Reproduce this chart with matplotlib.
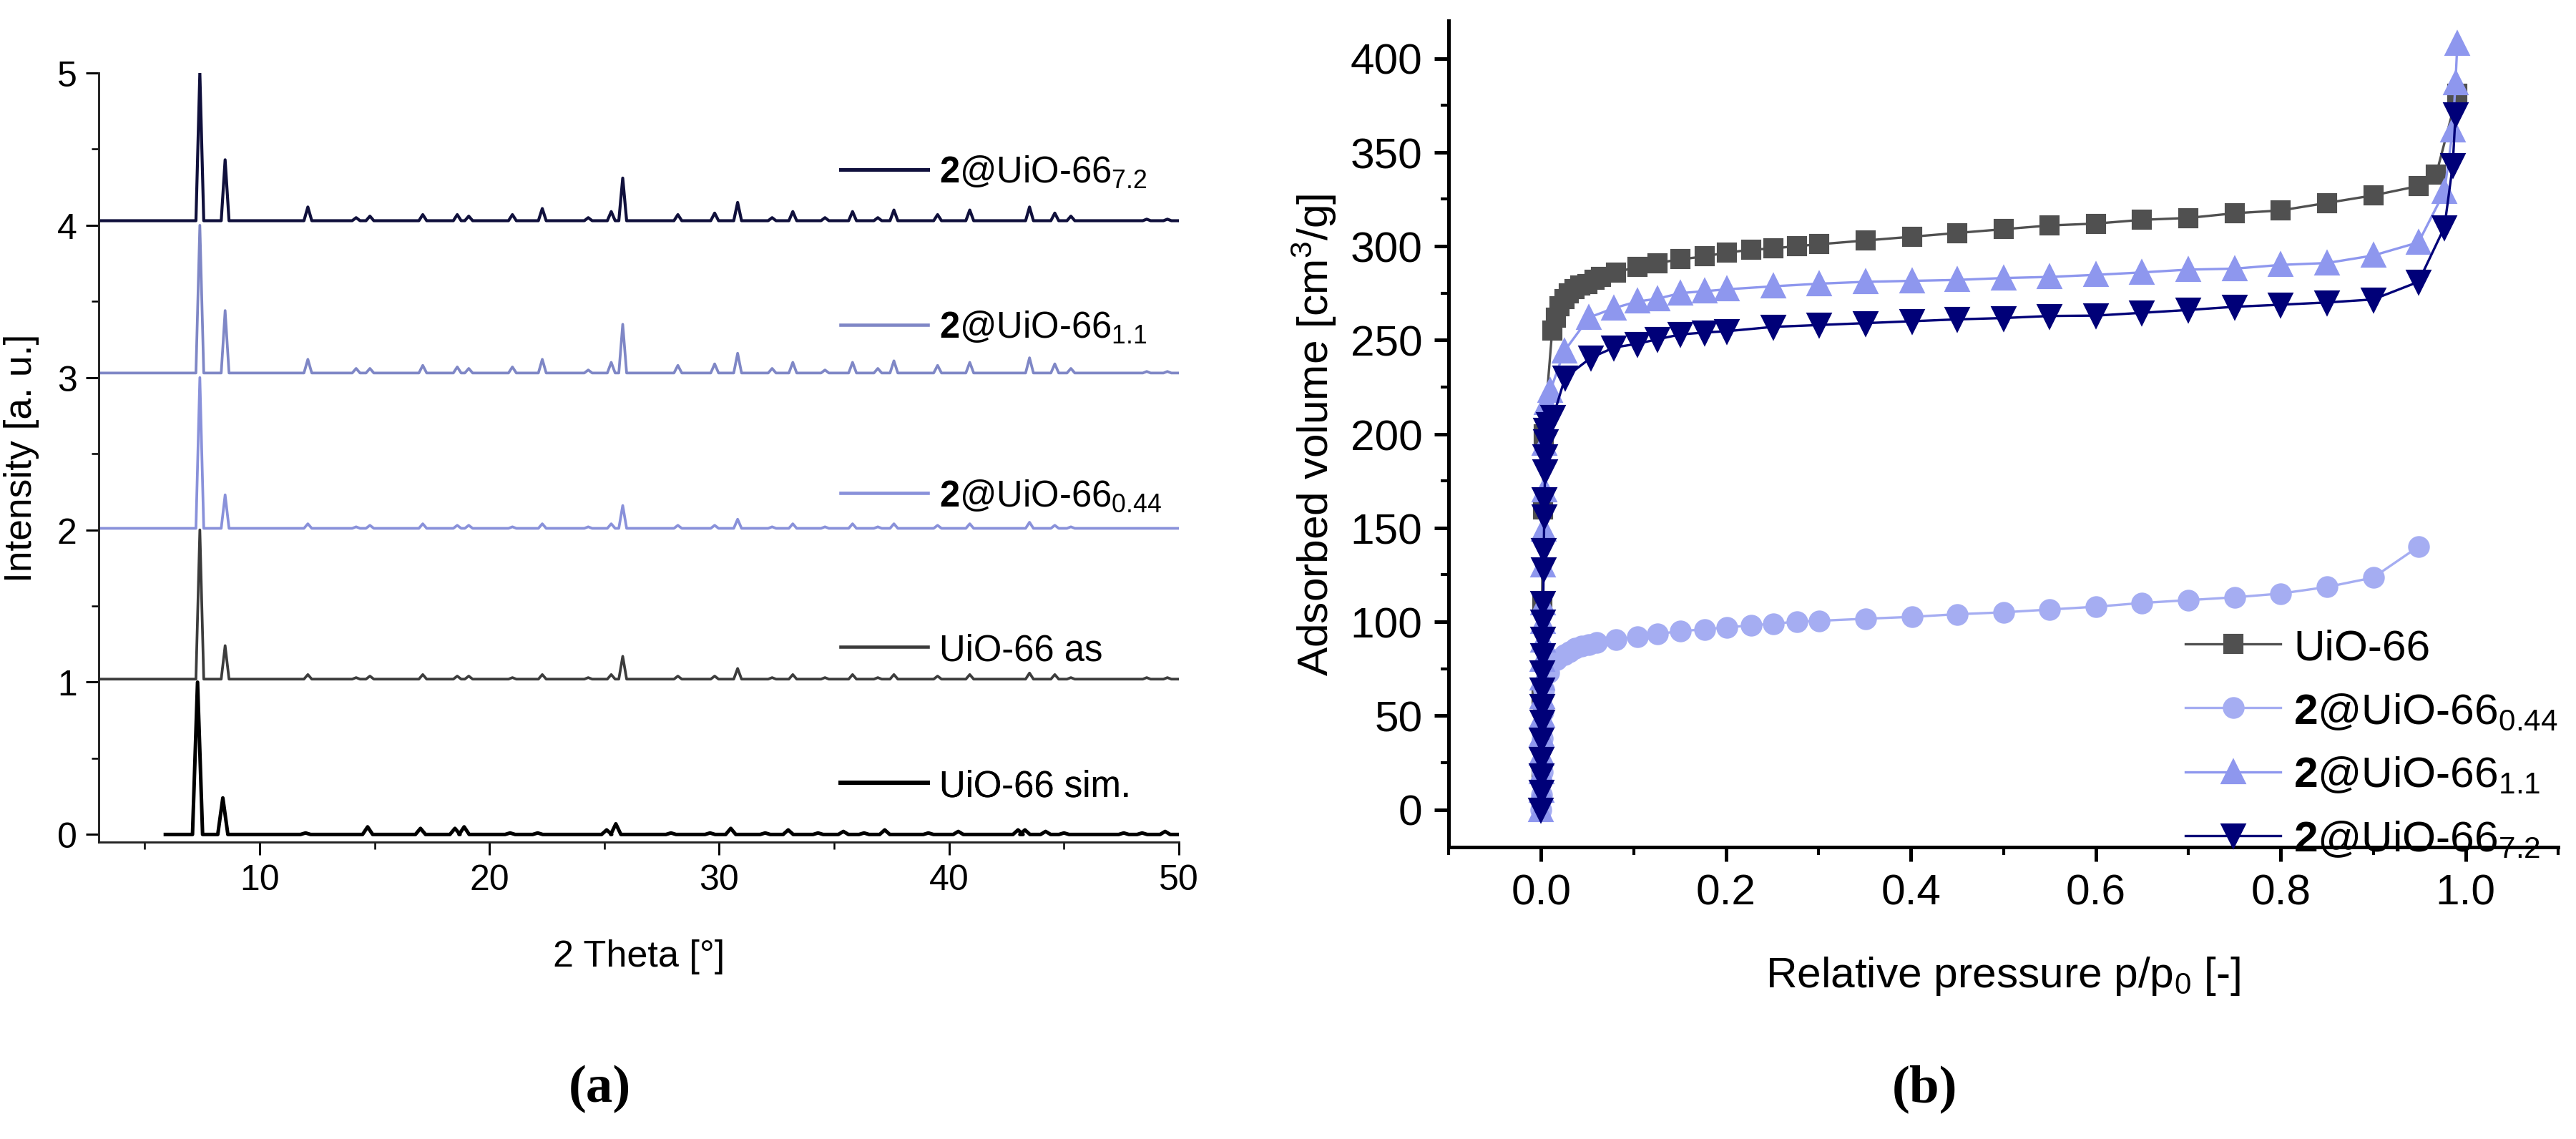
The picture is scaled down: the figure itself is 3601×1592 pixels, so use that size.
import matplotlib
matplotlib.use('Agg')
import matplotlib.pyplot as plt
from matplotlib.ticker import MultipleLocator
from matplotlib.lines import Line2D

plt.rcParams['font.family'] = ['Liberation Sans', 'DejaVu Sans']
plt.rcParams['mathtext.fontset'] = 'custom'
plt.rcParams['mathtext.rm'] = 'Liberation Sans'
plt.rcParams['mathtext.bf'] = 'Liberation Sans:bold'
plt.rcParams['mathtext.it'] = 'Liberation Sans:italic'

# ---- (a) PXRD patterns: peak positions (2 theta) and heights above baseline ----
peaks_exp = [7.4, 8.5, 12.1, 14.2, 14.8, 17.1, 18.6, 19.1, 21.0, 22.3, 24.3, 25.3,
             25.8, 28.2, 29.8, 30.8, 32.3, 33.2, 34.6, 35.8, 36.9, 37.6, 39.5,
             40.9, 43.5, 44.6, 45.3, 48.6, 49.5]
h_72 = [0.97, 0.40, 0.09, 0.02, 0.03, 0.04, 0.04, 0.03, 0.04, 0.08, 0.02, 0.06,
        0.28, 0.04, 0.05, 0.12, 0.02, 0.06, 0.02, 0.06, 0.02, 0.07, 0.04,
        0.07, 0.09, 0.05, 0.03, 0.01, 0.01]
h_11 = [0.97, 0.41, 0.09, 0.03, 0.03, 0.05, 0.04, 0.03, 0.04, 0.09, 0.02, 0.07,
        0.32, 0.05, 0.06, 0.13, 0.03, 0.07, 0.02, 0.07, 0.03, 0.08, 0.05,
        0.07, 0.10, 0.06, 0.03, 0.01, 0.01]
h_044 = [0.99, 0.22, 0.03, 0.01, 0.02, 0.03, 0.02, 0.02, 0.01, 0.03, 0.01, 0.03,
         0.15, 0.02, 0.02, 0.06, 0.01, 0.03, 0.01, 0.03, 0.01, 0.03, 0.02,
         0.03, 0.04, 0.02, 0.01, 0.00, 0.00]
h_as = [0.98, 0.22, 0.03, 0.01, 0.02, 0.03, 0.02, 0.02, 0.01, 0.03, 0.01, 0.03,
        0.15, 0.02, 0.02, 0.07, 0.01, 0.03, 0.01, 0.03, 0.01, 0.03, 0.02,
        0.03, 0.04, 0.03, 0.01, 0.01, 0.01]
peaks_sim = [7.3, 8.4, 12.0, 14.7, 17.0, 18.5, 18.9, 20.9, 22.1, 25.1, 25.5, 27.9,
             29.6, 30.5, 32.0, 33.0, 34.3, 35.4, 36.3, 37.2, 39.1, 40.4, 43.0,
             43.3, 44.2, 45.0, 47.6, 48.4, 49.4]
h_sim = [1.00, 0.24, 0.01, 0.05, 0.04, 0.04, 0.05, 0.01, 0.01, 0.03, 0.07, 0.01,
         0.01, 0.04, 0.01, 0.03, 0.01, 0.02, 0.01, 0.03, 0.01, 0.02, 0.03,
         0.03, 0.02, 0.01, 0.01, 0.01, 0.02]

xrd_labels = [r'$\mathbf{2}$@UiO-66$_{7.2}$', r'$\mathbf{2}$@UiO-66$_{1.1}$',
              r'$\mathbf{2}$@UiO-66$_{0.44}$', 'UiO-66 as', 'UiO-66 sim.']
xrd_offsets = [4.03, 3.03, 2.01, 1.02, 0.0]
xrd_start = [3.0, 3.0, 3.0, 3.0, 5.9]
xrd_end = 50.0

# ---- (b) N2 isotherms ----
p_uio = [0.0002, 0.0005, 0.001, 0.002, 0.003, 0.012, 0.016, 0.02,
         0.025, 0.03, 0.036, 0.042, 0.05, 0.058, 0.065, 0.081, 0.104, 0.126,
         0.151, 0.177, 0.201, 0.227, 0.251, 0.277, 0.301, 0.351, 0.401, 0.45,
         0.5, 0.55, 0.6, 0.65, 0.7, 0.75, 0.8, 0.85, 0.9, 0.949, 0.968, 0.991]
v_uio = [20, 60, 110, 160, 200, 255, 262, 268,
         272, 275, 277, 279, 280, 282, 283.5, 286, 289, 291,
         293, 294.5, 296.6, 298, 298.8, 300, 301, 303, 305, 307,
         309, 311, 312, 314, 315, 317.5, 319, 323, 327, 332, 338, 381]

p_044 = [0.0, 0.0005, 0.001, 0.0015, 0.002, 0.003, 0.008, 0.017, 0.025, 0.031,
         0.037, 0.044, 0.052, 0.06, 0.081, 0.104, 0.126, 0.151, 0.177, 0.201,
         0.227, 0.251, 0.277, 0.301, 0.351, 0.401, 0.45, 0.5, 0.55, 0.6,
         0.65, 0.7, 0.75, 0.8, 0.85, 0.9, 0.949]
v_044 = [0, 8, 20, 38, 52, 64, 73, 80, 82.5, 84,
         86, 87, 88, 89, 90.6, 92, 93.5, 95, 96, 97,
         98, 99, 100, 100.5, 101.6, 102.6, 104, 105, 106.5, 108,
         110, 111.5, 113, 115, 118.5, 123.5, 140]

p_11 = [0.0, 0.0002, 0.0004, 0.0006, 0.0008, 0.001, 0.0012, 0.0014, 0.0016,
        0.0018, 0.002, 0.0022, 0.0025, 0.003, 0.0035, 0.004, 0.006, 0.01,
        0.025, 0.052, 0.079, 0.104, 0.126, 0.151, 0.177, 0.201, 0.251, 0.301,
        0.351, 0.401, 0.45, 0.5, 0.55, 0.6, 0.65, 0.7, 0.75, 0.8, 0.85, 0.9,
        0.949, 0.977, 0.986, 0.989, 0.991]
v_11 = [0, 10, 20, 30, 40, 50, 60, 70, 80,
        90, 100, 110, 130, 149, 170, 195, 216.6, 223,
        244, 262, 267, 270.5, 272, 275, 276, 277, 278.6, 280,
        281, 281.5, 282, 283, 283.6, 284.7, 286, 287.5, 288, 290, 291, 295,
        302, 329, 361.6, 387, 408]

p_72 = [0.0, 0.0002, 0.0004, 0.0006, 0.0008, 0.001, 0.0012, 0.0014, 0.0016,
        0.0018, 0.002, 0.0022, 0.0024, 0.0027, 0.003, 0.0034, 0.0038, 0.0042,
        0.0046, 0.005, 0.0055, 0.008, 0.013, 0.026, 0.054, 0.079, 0.104, 0.126,
        0.151, 0.177, 0.201, 0.251, 0.301, 0.351, 0.401, 0.45, 0.5, 0.55, 0.6,
        0.65, 0.7, 0.75, 0.8, 0.85, 0.9, 0.949, 0.977, 0.986, 0.989]
v_72 = [0, 9.5, 18, 27, 37, 46.5, 55, 64, 73,
        82, 91, 100, 110, 128, 138, 156, 165, 180,
        188, 196, 202, 205, 209, 230, 240.6, 246, 248, 250.4,
        253, 254, 254.7, 257, 258, 259, 260, 261, 261.7, 262.8, 263,
        264.5, 266, 267.7, 268.8, 270, 271.6, 281, 310, 343, 370]


def pattern(start, end, offset, peaks, heights, w):
    xs = [start]
    ys = [offset]
    for p, h in zip(peaks, heights):
        xs += [p - w, p, p + w]
        ys += [offset, offset + h, offset]
    xs.append(end)
    ys.append(offset)
    return xs, ys


fig = plt.figure(figsize=(3601 / 300, 1593 / 300), dpi=300)

# ---------------- panel (a) ----------------
ax1 = fig.add_axes([138 / 3601, 1 - 1178 / 1593, 1510 / 3601, 1075 / 1593])
xrd_colors = ['#10103c', '#7f87c6', '#8991da', '#3c3c3c', '#000000']
xrd_heights = [h_72, h_11, h_044, h_as, h_sim]
xrd_peaks = [peaks_exp, peaks_exp, peaks_exp, peaks_exp, peaks_sim]
xrd_w = [0.17, 0.17, 0.17, 0.17, 0.22]
xrd_lw = [1.0, 0.9, 0.9, 0.9, 1.2]
legend_y = [0.871, 0.669, 0.450, 0.2495, 0.073]

for i in range(5):
    xs, ys = pattern(xrd_start[i], xrd_end, xrd_offsets[i], xrd_peaks[i],
                     xrd_heights[i], xrd_w[i])
    ax1.plot(xs, ys, color=xrd_colors[i], lw=xrd_lw[i])

for i in range(5):
    h = Line2D([], [], color=xrd_colors[i], lw=xrd_lw[i] + 0.2)
    leg = ax1.legend([h], [xrd_labels[i]], loc='center left',
                     bbox_to_anchor=(0.687, legend_y[i]), frameon=False,
                     fontsize=12.2, handlelength=2.4, handletextpad=0.3,
                     borderpad=0, borderaxespad=0)
    ax1.add_artist(leg)

ax1.set_xlim(3, 50)
ax1.set_ylim(-0.05, 5)
ax1.xaxis.set_major_locator(MultipleLocator(10))
ax1.xaxis.set_minor_locator(MultipleLocator(5))
ax1.yaxis.set_major_locator(MultipleLocator(1))
ax1.yaxis.set_minor_locator(MultipleLocator(0.5))
for s in ['top', 'right']:
    ax1.spines[s].set_visible(False)
for s in ['left', 'bottom']:
    ax1.spines[s].set_linewidth(0.7)
    ax1.spines[s].set_color('#222222')
ax1.tick_params(which='major', length=4.3, width=0.7, labelsize=12, pad=3)
ax1.tick_params(which='minor', length=2.3, width=0.6)
ax1.set_xlabel('2 Theta [°]', fontsize=12.5, labelpad=14)
ax1.set_ylabel('Intensity [a. u.]', fontsize=12.8, labelpad=6)

# ---------------- panel (b) ----------------
ax2 = fig.add_axes([2025 / 3601, 1 - 1185 / 1593, 1551 / 3601, 1155 / 1593])
ax2.plot(p_uio, v_uio, color='#505050', lw=0.8, marker='s', ms=5.8,
         label='UiO-66')
ax2.plot(p_044, v_044, color='#a5adf2', lw=0.8, marker='o', ms=6.3,
         label=r'$\mathbf{2}$@UiO-66$_{0.44}$')
ax2.plot(p_11, v_11, color='#8e97ee', lw=0.8, marker='^', ms=7.2,
         label=r'$\mathbf{2}$@UiO-66$_{1.1}$')
ax2.plot(p_72, v_72, color='#000078', lw=0.8, marker='v', ms=7.2,
         label=r'$\mathbf{2}$@UiO-66$_{7.2}$')

ax2.set_xlim(-0.1, 1.1)
ax2.set_ylim(-20, 420)
ax2.xaxis.set_major_locator(MultipleLocator(0.2))
ax2.xaxis.set_minor_locator(MultipleLocator(0.1))
ax2.yaxis.set_major_locator(MultipleLocator(50))
ax2.yaxis.set_minor_locator(MultipleLocator(25))
for s in ['top', 'right']:
    ax2.spines[s].set_visible(False)
for s in ['left', 'bottom']:
    ax2.spines[s].set_linewidth(1.2)
ax2.tick_params(which='major', length=4.8, width=1.2, labelsize=14.5, pad=4)
ax2.tick_params(which='minor', length=2.6, width=1.0)
ax2.set_xlabel(r'Relative pressure p/p$_0$ [-]', fontsize=14.5, labelpad=14)
ax2.set_ylabel(r'Adsorbed volume [cm$^3$/g]', fontsize=14.5, labelpad=4)
ax2.legend(loc='lower right', bbox_to_anchor=(1.0, -0.015), frameon=False,
           fontsize=14.5, handlelength=2.2, handletextpad=0.3,
           labelspacing=0.55, borderpad=0, borderaxespad=0)

# panel letters
fig.text(838 / 3601, 1 - 1522 / 1593, '(a)', ha='center', va='center',
         fontsize=18, family='Liberation Serif', weight='bold')
fig.text(2690 / 3601, 1 - 1522 / 1593, '(b)', ha='center', va='center',
         fontsize=18, family='Liberation Serif', weight='bold')
fig.savefig('out.png', dpi=300)
